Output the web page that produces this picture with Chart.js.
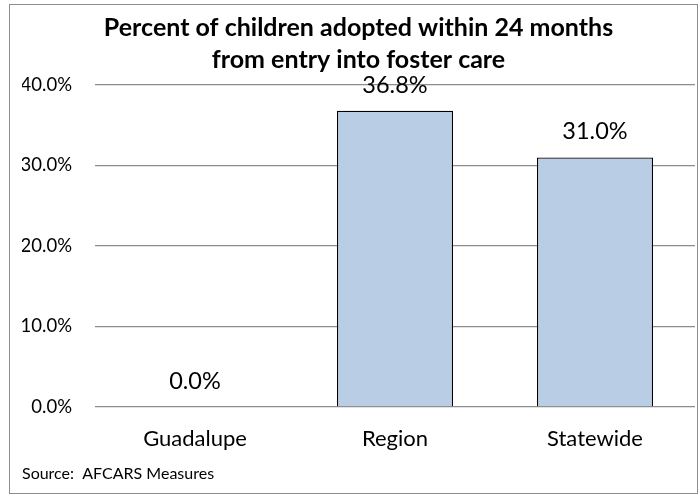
<!DOCTYPE html>
<html>
<head>
<meta charset="utf-8">
<script src="https://cdn.jsdelivr.net/npm/chart.js@4/dist/chart.umd.min.js"></script>
<style>
  html, body { margin: 0; padding: 0; background: #fff; }
  #wrap { width: 699px; height: 496px; position: relative; }
</style>
</head>
<body>
<div id="wrap"><canvas id="grafico" width="699" height="496"></canvas></div>
<script>
// --- DATOS ---
const categorias = ['Guadalupe', 'Region', 'Statewide'];
const porcentajes = [0.0, 36.8, 31.0];
const ticksY = [0, 10, 20, 30, 40];
const titulo = ['Percent of children adopted within 24 months', 'from entry into foster care'];
const fuente = 'Source:  AFCARS Measures';

const FUENTE = 'Lato, "Open Sans", sans-serif';

// marco gris alrededor del grafico
const marco = {
    id: 'marco',
    afterDraw(chart) {
        const ctx = chart.ctx;
        ctx.save();
        ctx.strokeStyle = '#8c8c8c';
        ctx.lineWidth = 1;
        ctx.strokeRect(9.5, 4.5, 688, 489);
        ctx.restore();
    }
};

// etiquetas de valor encima de cada barra
const etiquetas = {
    id: 'etiquetas',
    afterDatasetsDraw(chart) {
        const ctx = chart.ctx;
        const meta = chart.getDatasetMeta(0);
        ctx.save();
        ctx.font = '23.5px ' + FUENTE;
        ctx.fillStyle = '#000';
        ctx.textAlign = 'center';
        ctx.textBaseline = 'alphabetic';
        meta.data.forEach((barra, i) => {
            ctx.fillText(porcentajes[i].toFixed(1) + '%', barra.x, barra.y - 18);
        });
        ctx.restore();
    }
};

new Chart(document.getElementById('grafico'), {
    type: 'bar',
    data: {
        labels: categorias,
        datasets: [{
            data: porcentajes,
            backgroundColor: '#b9cde5',
            borderColor: '#000',
            borderWidth: 1.3,
            categoryPercentage: 0.58,
            barPercentage: 1
        }]
    },
    options: {
        responsive: false,
        animation: false,
        layout: { padding: { left: 22, right: 4, top: 0, bottom: 0 } },
        plugins: {
            legend: { display: false },
            tooltip: { enabled: false },
            title: {
                display: true,
                text: titulo,
                color: '#000',
                font: { family: FUENTE, size: 25, weight: 'bold', lineHeight: 1.28 },
                padding: { top: 12, bottom: 9 }
            },
            subtitle: {
                display: true,
                position: 'bottom',
                align: 'start',
                text: fuente,
                color: '#000',
                font: { family: FUENTE, size: 16, lineHeight: 1.2 },
                padding: { top: 2, bottom: 13 }
            }
        },
        scales: {
            x: {
                grid: { display: false, drawTicks: false },
                border: { display: false },
                ticks: { color: '#000', font: { family: FUENTE, size: 22 }, padding: 19 },
                afterFit(scale) { scale.height = 55; }
            },
            y: {
                min: ticksY[0],
                max: ticksY[ticksY.length - 1],
                afterBuildTicks(scale) { scale.ticks = ticksY.map(v => ({ value: v })); },
                grid: { color: '#8c8c8c', lineWidth: 1.2, drawTicks: false },
                border: { display: false },
                ticks: {
                    color: '#000',
                    font: { family: FUENTE, size: 18.5 },
                    padding: 23,
                    callback: v => v.toFixed(1) + '%'
                },
                afterFit(scale) { scale.width = 73; }
            }
        }
    },
    plugins: [marco, etiquetas]
});
</script>
</body>
</html>
